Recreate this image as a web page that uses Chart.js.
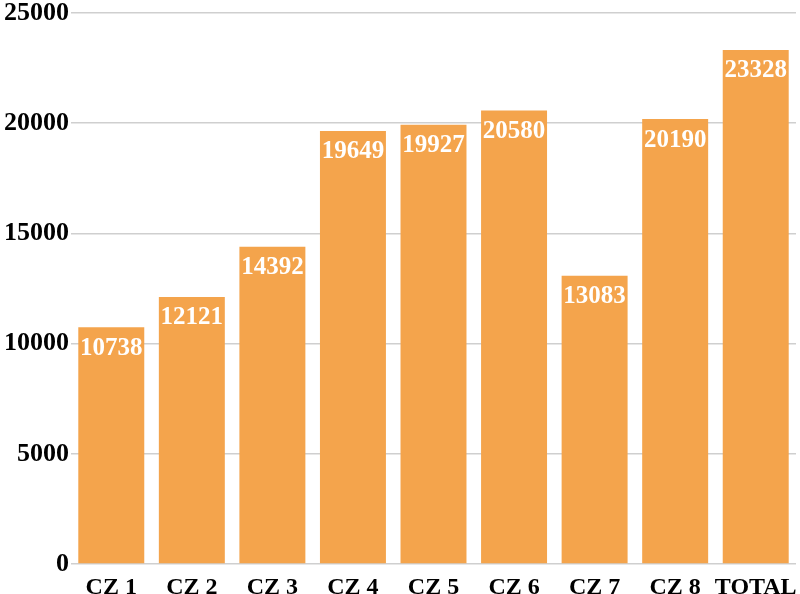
<!DOCTYPE html>
<html>
<head>
<meta charset="utf-8">
<script src="https://cdn.jsdelivr.net/npm/chart.js@4"></script>
<style>
  html, body { margin: 0; padding: 0; background: #fff; }
  #wrap { width: 800px; height: 594px; }
</style>
</head>
<body>
<div id="wrap"><canvas id="chart" width="800" height="594"></canvas></div>
<script>
const categories = ['CZ 1', 'CZ 2', 'CZ 3', 'CZ 4', 'CZ 5', 'CZ 6', 'CZ 7', 'CZ 8', 'TOTAL'];
const values = [10738, 12121, 14392, 19649, 19927, 20580, 13083, 20190, 23328];
const yTicks = [0, 5000, 10000, 15000, 20000, 25000];

const barColor = '#F4A44C';
const fontFamily = '"Liberation Serif", "Times New Roman", serif';

// white value labels just under each bar top
const valueLabels = {
    id: 'valueLabels',
    afterDatasetsDraw(chart) {
        const ctx = chart.ctx;
        const meta = chart.getDatasetMeta(0);
        ctx.save();
        ctx.fillStyle = '#fff';
        ctx.font = 'bold 25px ' + fontFamily;
        ctx.textAlign = 'center';
        ctx.textBaseline = 'middle';
        meta.data.forEach((bar, i) => {
            ctx.fillText(String(values[i]), bar.x, bar.y + 21);
        });
        ctx.restore();
    }
};

new Chart(document.getElementById('chart'), {
    type: 'bar',
    data: {
        labels: categories,
        datasets: [{
            data: values,
            backgroundColor: barColor,
            barPercentage: 0.9,
            categoryPercentage: 0.91,
        }]
    },
    options: {
        responsive: false,
        animation: false,
        layout: { padding: { top: 0, right: 4, left: 0, bottom: 0 } },
        plugins: {
            legend: { display: false },
            tooltip: { enabled: false }
        },
        scales: {
            x: {
                grid: { display: false },
                border: { display: false },
                ticks: {
                    color: '#000',
                    padding: 1,
                    autoSkip: false,
                    maxRotation: 0,
                    minRotation: 0,
                    font: { family: fontFamily, size: 24, weight: 'bold' }
                },
                afterFit(scale) { scale.height = 30; }
            },
            y: {
                min: 0,
                max: 25000,
                afterBuildTicks(scale) { scale.ticks = yTicks.map(v => ({ value: v })); },
                grid: { color: '#cfcfcf', lineWidth: 1.5, drawTicks: false },
                border: { display: false },
                ticks: {
                    color: '#000',
                    padding: 2,
                    callback: (v) => String(v),
                    font: { family: fontFamily, size: 26, weight: 'bold', lineHeight: 0.85 }
                },
                afterFit(scale) { scale.width = 71; }
            }
        }
    },
    plugins: [valueLabels]
});
</script>
</body>
</html>
